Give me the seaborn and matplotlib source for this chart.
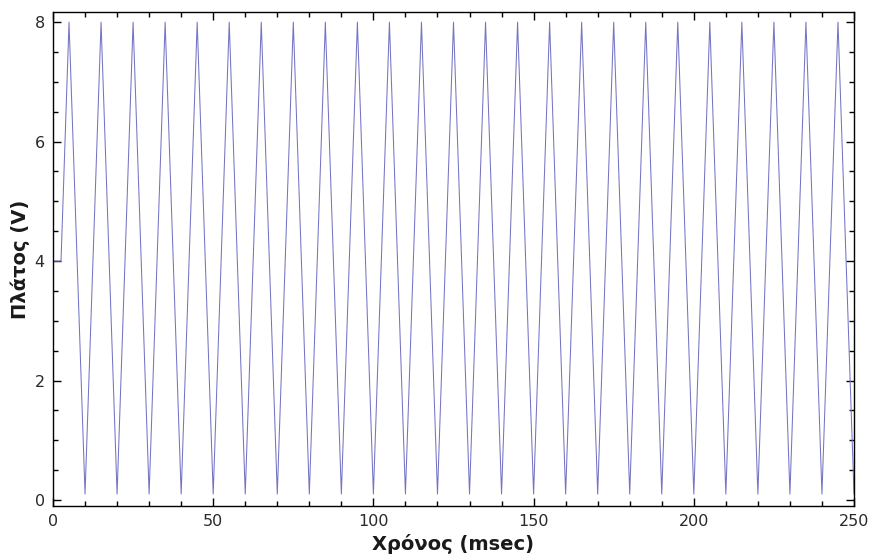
import matplotlib
matplotlib.use("Agg")
import matplotlib.pyplot as plt
import seaborn as sns
import pandas as pd
from matplotlib.ticker import MultipleLocator

sns.set_theme(style="white")
plt.rcParams['font.family'] = ['DejaVu Sans']

# Time (msec) of each vertex of the trace
time_ms = [0, 2.5, 5, 10, 15, 20, 25, 30, 35, 40, 45, 50, 55, 60, 65, 70, 75, 80,
           85, 90, 95, 100, 105, 110, 115, 120, 125, 130, 135, 140, 145, 150,
           155, 160, 165, 170, 175, 180, 185, 190, 195, 200, 205, 210, 215, 220,
           225, 230, 235, 240, 245, 250]
# Amplitude (V) at each vertex
amplitude_v = [4, 4, 8, 0.1, 8, 0.1, 8, 0.1, 8, 0.1, 8, 0.1, 8, 0.1, 8, 0.1, 8, 0.1,
               8, 0.1, 8, 0.1, 8, 0.1, 8, 0.1, 8, 0.1, 8, 0.1, 8, 0.1,
               8, 0.1, 8, 0.1, 8, 0.1, 8, 0.1, 8, 0.1, 8, 0.1, 8, 0.1,
               8, 0.1, 8, 0.1, 8, 0.1]

x_ticks = [0, 50, 100, 150, 200, 250]
y_ticks = [0, 2, 4, 6, 8]
x_label = "Χρόνος (msec)"
y_label = "Πλάτος (V)"

df = pd.DataFrame({"t": time_ms, "v": amplitude_v})

fig = plt.figure(figsize=(8.69, 5.6), dpi=100)
ax = fig.add_axes([53/869, 1 - 506/560, (854 - 53)/869, (506 - 12)/560])

sns.lineplot(data=df, x="t", y="v", ax=ax, color="#7474c4", linewidth=0.75,
             estimator=None, sort=False)

ax.set_xlim(0, 250)
ax.set_ylim(-0.1, 8.17)
ax.set_xticks(x_ticks)
ax.set_yticks(y_ticks)
ax.xaxis.set_minor_locator(MultipleLocator(10))
ax.yaxis.set_minor_locator(MultipleLocator(0.5))
ax.tick_params(which="both", direction="in", top=True, right=True,
               bottom=True, left=True, color="black", width=1.0)
ax.tick_params(which="major", length=6, labelsize=11.5, labelcolor="#2a2a2a", pad=6)
ax.tick_params(which="minor", length=3.5)
for s in ax.spines.values():
    s.set_color("black")
    s.set_linewidth(1.0)

ax.set_xlabel(x_label, fontsize=14, fontweight="bold", color="#1a1a1a", labelpad=3)
ax.set_ylabel(y_label, fontsize=14, fontweight="bold", color="#1a1a1a", labelpad=3)

fig.savefig("out.png", dpi=100)
